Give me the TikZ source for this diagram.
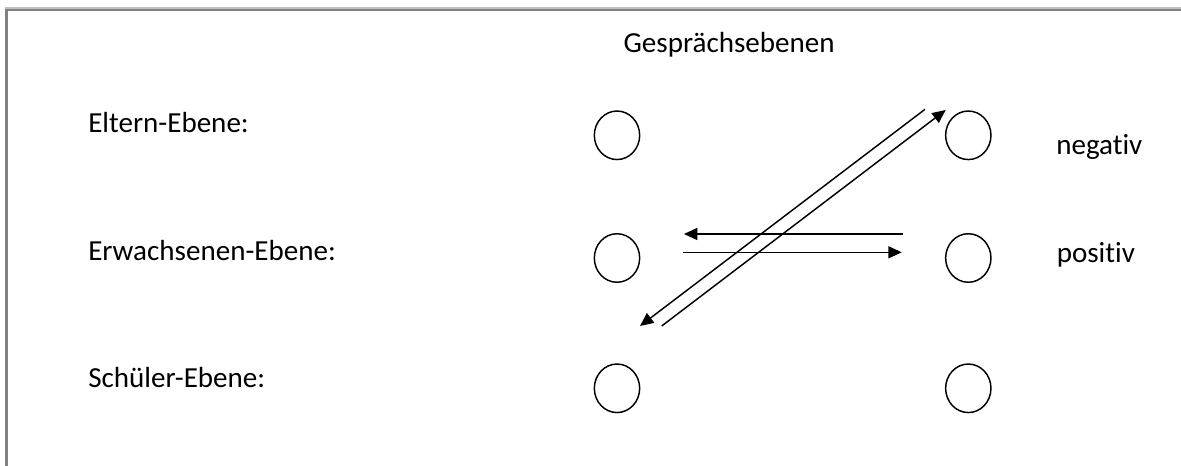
\documentclass[tikz,border=0pt]{standalone}
\usepackage{fontspec}
\setmainfont[Ligatures=NoCommon,RawFeature=-liga]{Carlito}
\usetikzlibrary{arrows.meta,shapes.geometric}
\begin{document}
\begin{tikzpicture}[x=0.75pt,y=-0.75pt,
  lbl/.style={anchor=base west,inner sep=0pt,font=\fontsize{21.8}{26}\selectfont},
  ring/.style={draw,ellipse,line width=1.1pt,inner sep=0pt,
     minimum width=34pt,minimum height=36.4pt},
  conn/.style={line width=1.1pt,-{Triangle[length=10pt,width=9pt]}}]
\useasboundingbox (0,0) rectangle (1181,466);
\fill[white] (0,0) rectangle (1181,466);
\draw[line width=1.6pt,color=black!50] (6.5,470) -- (6.5,9.5) -- (1185,9.5);
\draw[line width=0.8pt,color=black!25] (5,8) -- (1185,8);
% texts
\node[lbl] (title) at (623.3,53) {Gesprächsebenen};
\node[lbl] (eltern) at (88,132.7) {Eltern-Ebene:};
\node[lbl] (erw) at (88,261) {Erwachsenen-Ebene:};
\node[lbl] (schue) at (88,387.7) {Schüler-Ebene:};
\node[lbl] (neg) at (1056,155) {negativ};
\node[lbl] (pos) at (1056.5,263) {positiv};
% circles
\node[ring] (l1) at (617,135.3) {};
\node[ring] (l2) at (617,258) {};
\node[ring] (l3) at (617,388.3) {};
\node[ring] (r1) at (968.3,135.3) {};
\node[ring] (r2) at (968.3,258) {};
\node[ring] (r3) at (968.3,388.3) {};
% arrow end points
\coordinate (h1s) at (902.7,234);
\coordinate (h1e) at (684,234);
\coordinate (h2s) at (682.7,252.3);
\coordinate (h2e) at (901.7,252.3);
\coordinate (d1s) at (925,109.3);
\coordinate (d1e) at (640,326);
\coordinate (d2s) at (661.7,326);
\coordinate (d2e) at (945.7,110);
\draw[conn] (h1s) -- (h1e);
\draw[conn] (h2s) -- (h2e);
\draw[conn] (d1s) -- (d1e);
\draw[conn] (d2s) -- (d2e);
\end{tikzpicture}
\end{document}
